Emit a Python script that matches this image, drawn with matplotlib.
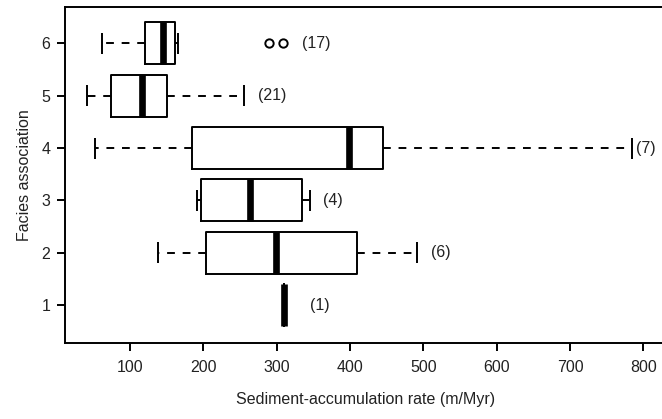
import numpy as np
import matplotlib
matplotlib.use("Agg")
import matplotlib.pyplot as plt

plt.rcParams['font.family'] = ['Liberation Sans', 'DejaVu Sans']

# 各相组合的箱线图统计量 (m/Myr)
facies = [1, 2, 3, 4, 5, 6]
whislo = [310, 138, 191, 52, 42, 62]
q1 = [310, 204, 197, 185, 74, 121]
med = [310, 299, 264, 399, 117, 145]
q3 = [310, 410, 334, 445, 151, 161]
whishi = [310, 492, 345, 784, 256, 166]
fliers = [[], [], [], [], [], [289, 308]]
n_samples = [1, 6, 4, 7, 21, 17]

# 标注 "(n)" 与右端之间的间距 (points)
label_gap = [19, 9.7, 9.5, 3, 10, 14]


def build_stats():
    """把各数组组合成 bxp 需要的字典列表"""
    stats = []
    for i in range(len(facies)):
        stats.append(dict(whislo=whislo[i], q1=q1[i], med=med[i], q3=q3[i],
                          whishi=whishi[i], fliers=fliers[i]))
    return stats


def main():
    fig = plt.figure(figsize=(6.62, 4.19), dpi=100)
    ax = fig.add_axes([0.0982, 0.1807, 0.9068, 0.8019])

    lw = 1.4
    ax.bxp(build_stats(), positions=facies, vert=False, widths=0.8,
           capwidths=0.4, patch_artist=False,
           boxprops=dict(color='black', linewidth=lw),
           whiskerprops=dict(color='black', linewidth=lw, linestyle=(0, (4, 4)),
                             dash_capstyle='butt'),
           capprops=dict(color='black', linewidth=lw, solid_capstyle='butt'),
           medianprops=dict(color='black', linewidth=4.8, solid_capstyle='butt'),
           flierprops=dict(marker='o', markerfacecolor='none', markeredgecolor='black',
                           markersize=6, markeredgewidth=1.4, linestyle='none'))

    # 样本数标注
    for i, y in enumerate(facies):
        right = max([whishi[i]] + fliers[i])
        ax.annotate(f"({n_samples[i]})", xy=(right, y), xytext=(label_gap[i], 0),
                    textcoords='offset points', ha='left', va='center',
                    fontsize=11.5, color='#222222')

    ax.set_xlim(11.4, 830)
    ax.set_ylim(0.27, 6.69)
    ax.set_xticks([100, 200, 300, 400, 500, 600, 700, 800])
    ax.set_yticks(facies)
    ax.set_yticklabels([str(v) for v in facies])

    for s in ax.spines.values():
        s.set_linewidth(1.4)
    ax.tick_params(axis='both', labelsize=11.5, width=1.4, length=5.5,
                   colors='black', labelcolor='#222222')
    ax.tick_params(axis='x', pad=6.8)
    ax.tick_params(axis='y', pad=5)

    ax.set_xlabel('Sediment-accumulation rate (m/Myr)', fontsize=11.5,
                  color='#222222', labelpad=12)
    ax.set_ylabel('Facies association', fontsize=11.5, color='#222222', labelpad=7)

    fig.savefig('out.png', dpi=100)


if __name__ == "__main__":
    main()
